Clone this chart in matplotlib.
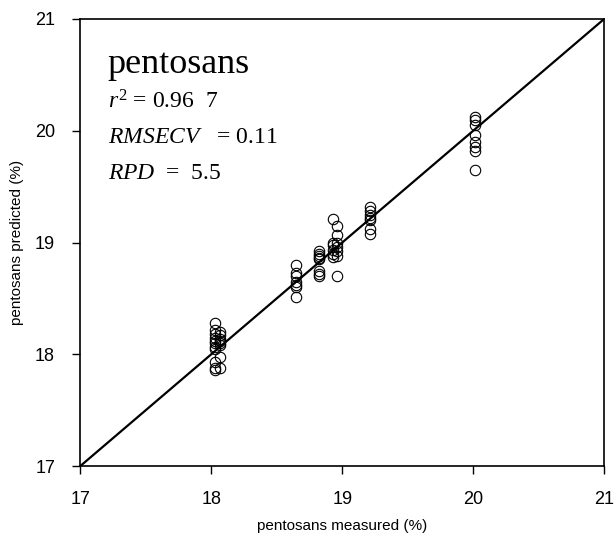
import matplotlib
matplotlib.use("Agg")
import matplotlib.pyplot as plt

measured = (
    [18.03] * 11 + [18.07] * 8 + [18.65] * 7 + [18.82] * 8 +
    [18.93] * 6 + [18.96] * 7 + [19.21] * 7 + [20.01] * 8
)
predicted = [
    18.28, 18.22, 18.18, 18.15, 18.12, 18.10, 18.07, 18.05, 17.93, 17.88, 17.86,
    18.20, 18.17, 18.14, 18.12, 18.10, 18.08, 17.98, 17.88,
    18.80, 18.73, 18.70, 18.65, 18.62, 18.60, 18.51,
    18.92, 18.90, 18.88, 18.86, 18.85, 18.75, 18.72, 18.70,
    19.21, 19.00, 18.98, 18.93, 18.90, 18.87,
    19.15, 19.07, 19.00, 18.96, 18.92, 18.88, 18.70,
    19.32, 19.28, 19.25, 19.22, 19.20, 19.12, 19.08,
    20.12, 20.10, 20.05, 19.96, 19.90, 19.85, 19.82, 19.65,
]
ticks = [17, 18, 19, 20, 21]
line_x = [17, 21]

plt.rcParams['font.family'] = ['Liberation Sans', 'DejaVu Sans']
plt.rcParams['mathtext.fontset'] = 'custom'
plt.rcParams['mathtext.rm'] = 'Liberation Serif'
plt.rcParams['mathtext.it'] = 'Liberation Serif:italic'

fig = plt.figure(figsize=(6.16, 5.39), dpi=100)
ax = fig.add_axes([0.130, 0.135, 0.851, 0.830])

ax.plot(line_x, line_x, color='black', lw=1.6, zorder=2)
ax.plot(measured, predicted, 'o', mfc='none', mec='black', mew=0.8, ms=7.5,
        zorder=3, clip_on=False)

ax.set_xlim(17, 21)
ax.set_ylim(17, 21)
ax.set_xticks(ticks)
ax.set_yticks(ticks)
ax.tick_params(direction='out', length=6, width=1, labelsize=13)
ax.tick_params(axis='x', pad=12)
ax.tick_params(axis='y', pad=12)
for s in ax.spines.values():
    s.set_linewidth(1.2)

ax.set_xlabel('pentosans measured (%)', fontsize=11, labelpad=8)
ax.set_ylabel('pentosans predicted (%)', fontsize=11, labelpad=8)

serif = ['Liberation Serif', 'DejaVu Serif']
ax.text(0.053, 0.879, 'pentosans', transform=ax.transAxes, fontsize=26,
        family=serif, va='baseline')
ax.text(0.053, 0.799, r'$r^2$ = 0.96  7', transform=ax.transAxes, fontsize=17,
        family=serif, va='baseline')
ax.text(0.053, 0.723, r'$RMSECV$   = 0.11', transform=ax.transAxes, fontsize=17,
        family=serif, va='baseline')
ax.text(0.053, 0.642, r'$RPD$  =  5.5', transform=ax.transAxes, fontsize=17,
        family=serif, va='baseline')

fig.savefig('out.png', dpi=100)
